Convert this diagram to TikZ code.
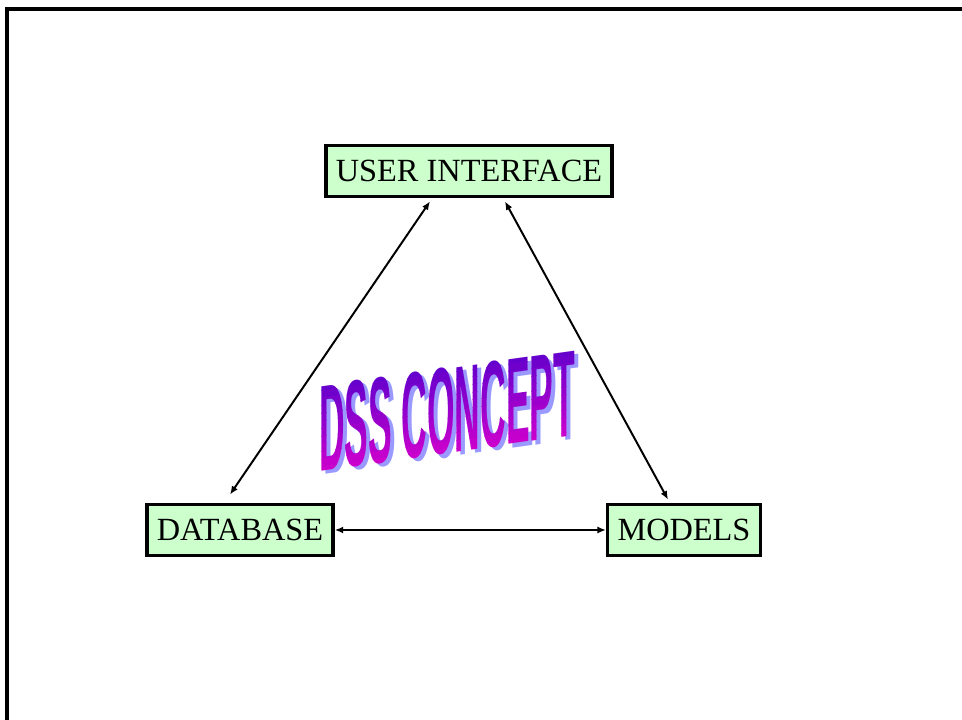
\documentclass[tikz,border=0pt]{standalone}
\usepackage{fontspec}
\setmainfont{Liberation Serif}
\newfontfamily\dssfont{Liberation Sans}
\usetikzlibrary{positioning,calc,arrows.meta}
\definecolor{boxgreen}{RGB}{204,255,204}
\definecolor{dsstop}{RGB}{102,0,204}
\definecolor{dssbottom}{RGB}{204,0,204}
\definecolor{dssshade}{RGB}{153,153,255}
\tikzset{
box/.style={rectangle,draw=black,line width=2.5pt,fill=boxgreen,minimum height=36.5pt,inner xsep=7pt,font=\fontsize{23}{27}\selectfont}
}
\tikzset{
link/.style={line width=1.4pt,{Latex[length=6pt,width=5pt]}-{Latex[length=6pt,width=5pt]}}
}
\tikzset{
dss/.style={font=\fontsize{40}{40}\selectfont\dssfont\bfseries,inner sep=0pt,transform shape,xscale=0.63,yscale=2.18}
}
\begin{document}
\begin{tikzpicture}[x=0.025cm,y=0.025cm]
\clip (0,0) rectangle (962,720);
\draw[line width=2.2pt] (7,-10) -- (7,711) -- (975,711);

\node[box] (ui) at (469,549) {USER INTERFACE};
\node[box] (db) at (240,190) {DATABASE};
\node[box] (models) at (684,190) {MODELS};

\draw[link] ($(ui.south)+(-39,-3)$) -- ($(db.north)+(-10,8)$);
\draw[link] ($(ui.south)+(36,-3)$) -- ($(models.north)+(-16,3)$);
\draw[link] (db) -- (models);

%------------------------------------------------------------%
\begin{scope}[shift={(447,309)},yslant=0.14]
\node[dss,text=dssshade] (dssshadow) at (4,-4) {DSS CONCEPT};
\foreach \k in {0,...,11}
{
\pgfmathsetmacro\p{100*\k/11}
\begin{scope}
\clip (-150,{46.6-\k*92/12}) rectangle (150,{46-(\k+1)*92/12});
\node[dss,text=dssbottom!\p!dsstop] (dss\k) at (0,0) {DSS CONCEPT};
\end{scope}
}
\end{scope}

\end{tikzpicture}
\end{document}
